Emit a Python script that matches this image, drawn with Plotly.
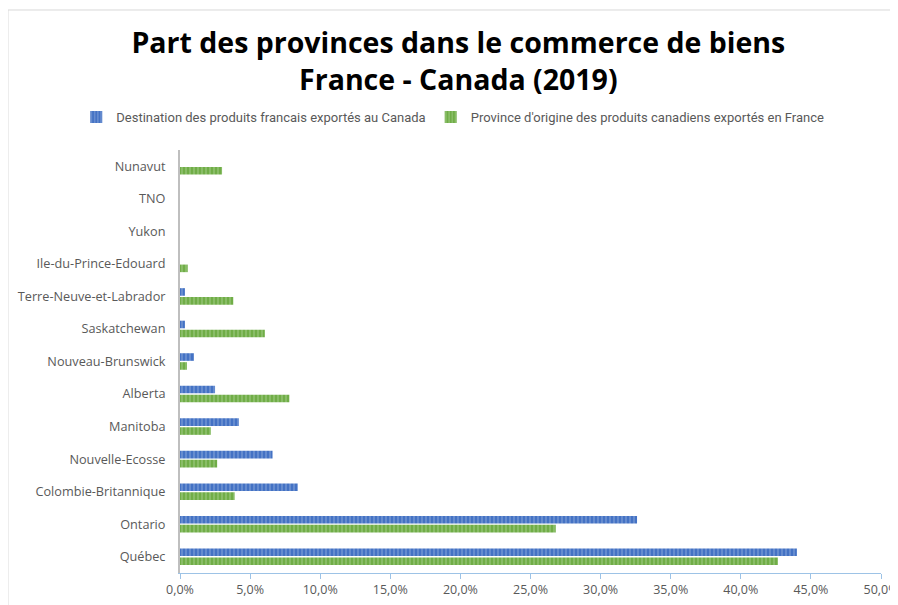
import plotly.graph_objects as go

# Données (en %)
provinces = ['Québec', 'Ontario', 'Colombie-Britannique', 'Nouvelle-Ecosse', 'Manitoba',
             'Alberta', 'Nouveau-Brunswick', 'Saskatchewan', 'Terre-Neuve-et-Labrador',
             'Ile-du-Prince-Edouard', 'Yukon', 'TNO', 'Nunavut']
dest_fr = [44.0, 32.6, 8.4, 6.6, 4.2, 2.5, 1.0, 0.35, 0.35, 0.0, 0.0, 0.0, 0.0]
orig_ca = [42.65, 26.8, 3.9, 2.65, 2.2, 7.8, 0.5, 6.05, 3.8, 0.55, 0.0, 0.0, 3.0]
x_ticks = [0, 5, 10, 15, 20, 25, 30, 35, 40, 45, 50]
x_labels = ['0,0%', '5,0%', '10,0%', '15,0%', '20,0%', '25,0%',
            '30,0%', '35,0%', '40,0%', '45,0%', '50,0%']

fig = go.Figure()

# green first so it sits under the blue bar in each group
fig.add_trace(go.Bar(
    y=provinces, x=orig_ca, orientation='h',
    name="Province d'origine des produits canadiens exportés en France",
    marker=dict(color='#70AD47', line=dict(width=0),
                pattern=dict(shape='|', fgcolor='#A9D18E', bgcolor='#70AD47',
                             size=4, solidity=0.45)),
    legendrank=2,
))
fig.add_trace(go.Bar(
    y=provinces, x=dest_fr, orientation='h',
    name='Destination des produits francais exportés au Canada',
    marker=dict(color='#4472C4', line=dict(width=0),
                pattern=dict(shape='|', fgcolor='#8FAADC', bgcolor='#4472C4',
                             size=4, solidity=0.45)),
    legendrank=1,
))

# page body has an 8px margin, so the figure is 890x597
fig.update_layout(
    width=890, height=597,
    paper_bgcolor='white', plot_bgcolor='white',
    margin=dict(l=172, r=17, t=142, b=32, autoexpand=False),
    barmode='group', bargap=0.45, bargroupgap=0.15,
    title=dict(
        text='Part des provinces dans le commerce de biens<br>France - Canada (2019)',
        x=0.506, xanchor='center', y=0.925, yanchor='top',
        font=dict(family='Open Sans', size=28.5, color='black', weight='bold'),
    ),
    legend=dict(
        orientation='h', x=-0.148, xanchor='left',
        y=1.078, yanchor='middle',
        font=dict(family='Roboto', size=13, color='#595959'),
        itemwidth=30,
    ),
    showlegend=True,
    font=dict(family='Open Sans', color='#595959'),
)

fig.update_xaxes(
    range=[0, 50], tickvals=x_ticks, ticktext=x_labels,
    showgrid=False, zeroline=False,
    showline=True, linecolor='#9DC3E6', linewidth=1,
    ticks='outside', tickcolor='#9DC3E6', ticklen=5,
    tickfont=dict(family='Open Sans', size=12.5, color='#595959'),
    ticklabeloverflow='allow',
    automargin=False,
)
fig.update_yaxes(
    showgrid=False, showline=True, linecolor='#BFBFBF', linewidth=2,
    ticks='', ticklabelstandoff=10,
    tickfont=dict(family='Open Sans', size=12.7, color='#595959'),
    automargin=False,
)

# outer chart border
fig.add_shape(type='rect', xref='paper', yref='paper',
              x0=-0.2454, x1=1.0228, y0=-0.08, y1=1.331,
              line=dict(color='#D9D9D9', width=1))

fig.write_html('out.html')
